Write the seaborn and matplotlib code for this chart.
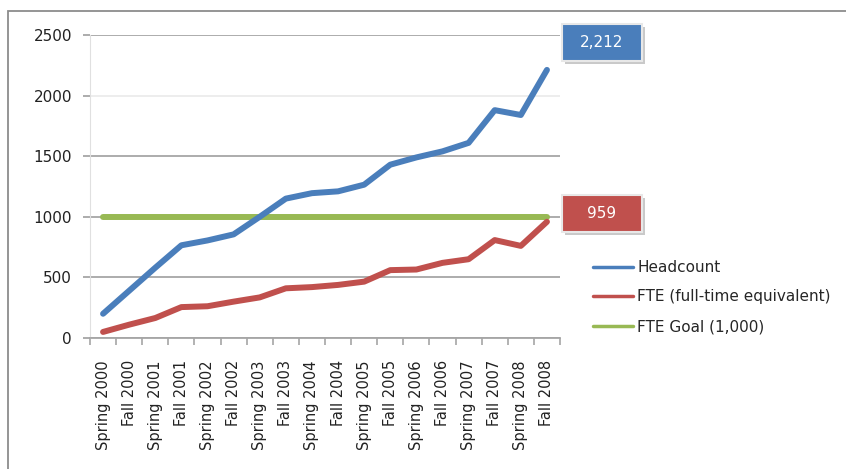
import numpy as np
import pandas as pd
import seaborn as sns
import matplotlib.pyplot as plt
from matplotlib.patches import Rectangle
from matplotlib.transforms import ScaledTranslation

# chart data
terms = ["Spring 2000", "Fall 2000", "Spring 2001", "Fall 2001", "Spring 2002", "Fall 2002",
         "Spring 2003", "Fall 2003", "Spring 2004", "Fall 2004", "Spring 2005", "Fall 2005",
         "Spring 2006", "Fall 2006", "Spring 2007", "Fall 2007", "Spring 2008", "Fall 2008"]
headcount = [200, 390, 580, 765, 805, 855, 1000, 1150, 1195, 1210, 1265, 1430,
             1490, 1540, 1610, 1880, 1840, 2212]
fte = [50, 110, 165, 255, 262, 300, 335, 410, 420, 438, 465, 560,
       565, 620, 650, 808, 760, 959]
fte_goal = [1000] * len(terms)

series_names = ["Headcount", "FTE (full-time equivalent)", "FTE Goal (1,000)"]
series_colors = ["#4a7ebb", "#c0504d", "#98b954"]
y_ticks = [0, 500, 1000, 1500, 2000, 2500]

sns.set_style("white")
plt.rcParams['font.family'] = ['DejaVu Sans']

fig = plt.figure(figsize=(8.46, 4.69), dpi=100)
ax = fig.add_axes([90 / 846, 1 - 338 / 469, 470 / 846, 303 / 469])

# outer chart frame
fig.patches.append(Rectangle((8 / 846, -0.1), 1.0, 1.1 - 11 / 469, transform=fig.transFigure,
                             fill=False, edgecolor="#8c8c8c", linewidth=1.3))

for name, vals, col in zip(series_names, [headcount, fte, fte_goal], series_colors):
    sns.lineplot(x=terms, y=vals, sort=False, color=col, linewidth=4.3, label=name, ax=ax,
                 zorder=3 if name != series_names[2] else 2)

ax.set_ylim(0, 2500)
ax.set_xlim(-0.5, len(terms) - 0.5)
ax.set_yticks(y_ticks)
ax.yaxis.grid(True, color="#a6a6a6", linewidth=1.3)
# the 2000 gridline is barely visible in the original
ax.get_ygridlines()[4].set_color("#ececec")
ax.set_axisbelow(True)
for s in ["top", "right"]:
    ax.spines[s].set_visible(False)
ax.spines["left"].set_color("#e0e0e0")
ax.spines["bottom"].set_color("#a6a6a6")
ax.spines["bottom"].set_linewidth(1.3)

ax.set_xticks(range(len(terms)))
ax.set_xticklabels(terms, rotation=90, fontsize=10.5, color="#222222")
ax.set_xticks(np.arange(-0.5, len(terms), 1), minor=True)
ax.tick_params(axis="x", which="major", length=0, pad=16)
ax.tick_params(axis="x", which="minor", length=5, width=1.2, color="#a6a6a6", bottom=True)
ax.tick_params(axis="y", length=5, width=1.3, color="#a6a6a6", pad=8, labelsize=11,
               labelcolor="#222222", left=True)

# value callouts for the last term
def callout(val, col, dy):
    trans = fig.dpi_scale_trans + ScaledTranslation(len(terms) - 1, val, ax.transData)
    x0, y0, w, h = 0.15, dy - 0.185, 0.80, 0.37
    ax.add_patch(Rectangle((x0 + 0.03, y0 - 0.03), w, h, transform=trans, facecolor="#c9c9c9",
                           edgecolor="none", clip_on=False, zorder=4))
    ax.add_patch(Rectangle((x0, y0), w, h, transform=trans, facecolor=col,
                           edgecolor="#e8e8e8", linewidth=1.5, clip_on=False, zorder=5))
    ax.text(x0 + w / 2, dy, f"{val:,}", transform=trans, ha="center", va="center",
            color="white", fontsize=11, zorder=6)

callout(headcount[-1], series_colors[0], 0.27)
callout(fte[-1], series_colors[1], 0.08)

leg = ax.legend(loc="center left", bbox_to_anchor=(593 / 846, 1 - 297 / 469),
                bbox_transform=fig.transFigure, frameon=False, fontsize=11,
                handlelength=2.6, handletextpad=0.3, labelspacing=0.95,
                borderpad=0, borderaxespad=0)
for line in leg.get_lines():
    line.set_linewidth(2.5)

fig.savefig("out.png", dpi=100)
